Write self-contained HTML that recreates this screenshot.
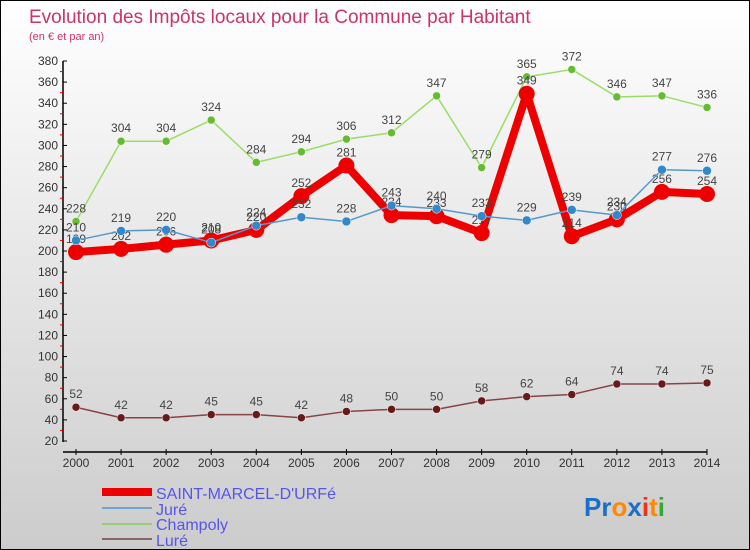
<!DOCTYPE html>
<html><head><meta charset="utf-8"><style>
body{margin:0}
#c{width:750px;height:550px;position:relative;background:linear-gradient(#fff,#ccc);box-sizing:border-box;border:1px solid #000;overflow:hidden;font-family:"Liberation Sans",sans-serif}
</style></head><body>
<div id="c">
<svg id="s" width="750" height="550" style="position:absolute;left:0;top:0">
<text x="28" y="22" font-size="19" fill="#cc3366">Evolution des Impôts locaux pour la Commune par Habitant</text>
<text x="28" y="39" font-size="11" fill="#cc3366">(en € et par an)</text>
<g id="axes"></g><g id="series"></g>
<g>
<line x1="101" y1="491" x2="151" y2="491" stroke="#ee0000" stroke-width="8"/>
<line x1="101" y1="507" x2="151" y2="507" stroke="#6fa7cc" stroke-width="2"/>
<line x1="101" y1="523" x2="151" y2="523" stroke="#99cc77" stroke-width="2"/>
<line x1="101" y1="538" x2="151" y2="538" stroke="#886666" stroke-width="2"/>
<text x="155" y="498" font-size="16" fill="#5555ee">SAINT-MARCEL-D'URFé</text>
<text x="155" y="514" font-size="16" fill="#5555ee">Juré</text>
<text x="155" y="529" font-size="16" fill="#5555ee">Champoly</text>
<text x="155" y="545" font-size="16" fill="#5555ee">Luré</text>
</g>
<g font-size="26" font-weight="bold">
<text x="583" y="515"><tspan fill="#1a6fcc">Pr</tspan><tspan fill="#ff8800">o</tspan><tspan fill="#1a6fcc">x</tspan><tspan fill="#ee3311">i</tspan><tspan fill="#ff8800">t</tspan><tspan fill="#33aa33">i</tspan></text>
</g>
</svg>
</div>
<script>
const years=[2000,2001,2002,2003,2004,2005,2006,2007,2008,2009,2010,2011,2012,2013,2014];
const saint=[199,202,206,210,220,252,281,234,233,217,349,214,230,256,254];
const jure=[210,219,220,208,224,232,228,243,240,233,229,239,234,277,276];
const champoly=[228,304,304,324,284,294,306,312,347,279,365,372,346,347,336];
const lure=[52,42,42,45,45,42,48,50,50,58,62,64,74,74,75];
const yTicks=[20,40,60,80,100,120,140,160,180,200,220,240,260,280,300,320,340,360,380];
const NS="http://www.w3.org/2000/svg";
const x=i=>75+i*(706-75)/(years.length-1);
const y=v=>440-(v-20)*(380/360);
function mk(tag,attrs,parent){const e=document.createElementNS(NS,tag);for(const k in attrs)e.setAttribute(k,attrs[k]);parent.appendChild(e);return e;}
const ax=document.getElementById('axes');
mk('line',{x1:62,y1:60,x2:62,y2:441,stroke:'#000','stroke-width':1.5},ax);
mk('line',{x1:62,y1:451,x2:706,y2:451,stroke:'#000','stroke-width':1.5},ax);
yTicks.forEach((t,i)=>{
 mk('line',{x1:62,y1:y(t),x2:66,y2:y(t),stroke:'#000'},ax);
 if(i<yTicks.length-1)mk('line',{x1:59,y1:y(t+10),x2:62,y2:y(t+10),stroke:'#e00'},ax);
 const tx=mk('text',{x:57,y:y(t)+4,'font-size':12,fill:'#333','text-anchor':'end'},ax);tx.textContent=t;
 
 
});
years.forEach((yr,i)=>{
 mk('line',{x1:x(i),y1:448,x2:x(i),y2:454,stroke:'#000'},ax);
 const tx=mk('text',{x:x(i),y:466,'font-size':12,fill:'#333','text-anchor':'middle'},ax);tx.textContent=yr;
 
 
});
const sg=document.getElementById('series');
function series(name,data,lc,pc,lw,r){
 const g=mk('g',{},sg);
 
 
 mk('polyline',{points:data.map((v,i)=>x(i)+','+y(v)).join(' '),fill:'none',stroke:lc,'stroke-width':lw,'stroke-linejoin':'round'},g);
 data.forEach((v,i)=>{
  const c=mk('circle',{cx:x(i),cy:y(v),r:r,fill:pc,stroke:r>5?'none':'#fff','stroke-width':0.5},g);
  
  
  const t=mk('text',{x:x(i),y:y(v)-9,'font-size':12,fill:'#444','text-anchor':'middle'},g);t.textContent=v;
  
  
 });
}
series('lure-series',lure,'#884444','#661a1a',1.5,4);
series('champoly-series',champoly,'#99dd66','#66bb33',1.5,4);
series('saint-marcel-series',saint,'#ee0000','#ee0000',8,8);
series('jure-series',jure,'#5599cc','#3388cc',1.5,4.5);
</script>
</body></html>
